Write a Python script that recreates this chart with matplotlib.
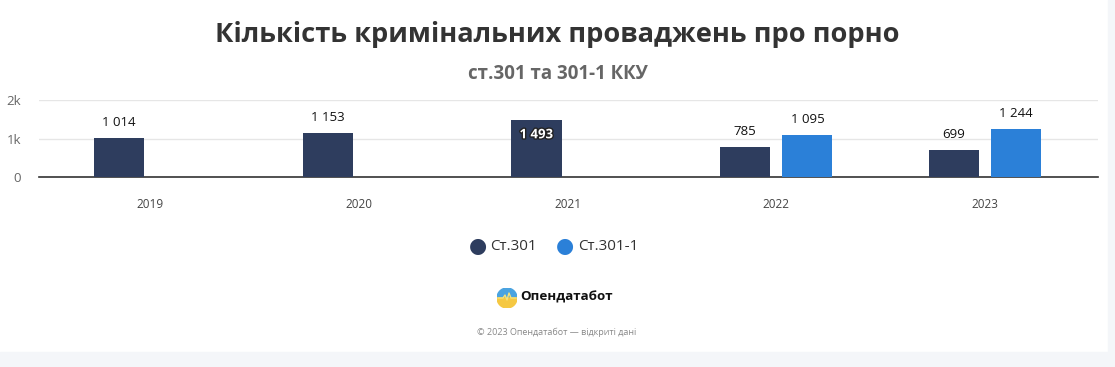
import matplotlib.pyplot as plt
import matplotlib.patheffects as pe
from matplotlib.patches import Rectangle, Wedge
import numpy as np

plt.rcParams['font.family'] = ['Open Sans', 'DejaVu Sans']

years = ['2019', '2020', '2021', '2022', '2023']
st301 = [1014, 1153, 1493, 785, 699]
st301_1 = [None, None, None, 1095, 1244]
series_names = ['Ст.301', 'Ст.301-1']
colors = ['#2e3d5e', '#2b80d8']

fig = plt.figure(figsize=(11.15, 3.67), dpi=100)
fig.patch.set_facecolor('white')

# light page border at right / bottom
fig.patches.append(Rectangle((0, 0), 1, 15 / 367, transform=fig.transFigure,
                             color='#f4f6f9', zorder=0))
fig.patches.append(Rectangle((1108 / 1115, 0), 7 / 1115, 1, transform=fig.transFigure,
                             color='#f4f6f9', zorder=0))

ax = fig.add_axes([39 / 1115, (367 - 177) / 367, (1098 - 39) / 1115, 77 / 367])
x = np.arange(len(years))
w = 0.24
off = 0.149

ax.bar(x - off, st301, width=w, color=colors[0], zorder=3)
vals2 = [v if v is not None else 0 for v in st301_1]
ax.bar(x + off, vals2, width=w, color=colors[1], zorder=3)

ax.set_xlim(-0.532, 4.541)
ax.set_ylim(0, 2000)
ax.set_yticks([0, 1000, 2000], ['0', '1k', '2k'])
ax.set_xticks(x, years)
ax.grid(axis='y', color='#e6e6e6', linewidth=1, zorder=0)
for s in ['top', 'right', 'left']:
    ax.spines[s].set_visible(False)
ax.spines['bottom'].set_color('#333333')
ax.spines['bottom'].set_linewidth(1.2)
ax.tick_params(axis='x', length=0, pad=15, labelsize=8.5, labelcolor='#444444')
ax.tick_params(axis='y', length=0, pad=13, labelsize=9.5, labelcolor='#666666')

def fmt(v):
    return f'{v:,}'.replace(',', ' ')

for i, v in enumerate(st301):
    if v > 1400:
        ax.annotate(fmt(v), (x[i] - off, v), xytext=(0, -11), textcoords='offset points',
                    ha='center', va='center', fontsize=9.5, fontweight='bold', color='white',
                    path_effects=[pe.withStroke(linewidth=2, foreground='#222222')], zorder=5)
    else:
        ax.annotate(fmt(v), (x[i] - off, v), xytext=(0, 11), textcoords='offset points',
                    ha='center', va='center', fontsize=9.5, color='#111111', zorder=5)
for i, v in enumerate(st301_1):
    if v is not None:
        ax.annotate(fmt(v), (x[i] + off, v), xytext=(0, 11), textcoords='offset points',
                    ha='center', va='center', fontsize=9.5, color='#111111', zorder=5)

fig.text(0.5, 1 - 35 / 367, 'Кількість кримінальних проваджень про порно', ha='center',
         va='center', fontsize=19.6, fontweight='bold', color='#333333')
fig.text(0.5, 1 - 74 / 367, 'ст.301 та 301-1 ККУ', ha='center', va='center',
         fontsize=13.5, fontweight='bold', color='#666666')

# legend
ly = 1 - 246 / 367
for cx, tx, name, c in [(478, 490, series_names[0], colors[0]),
                        (565, 578, series_names[1], colors[1])]:
    fig.text(cx / 1115, ly, '●', ha='center', va='center', fontsize=15, color=c,
             family='DejaVu Sans')
    fig.text(tx / 1115, ly, name, ha='left', va='center', fontsize=11, color='#333333')

# logo
lax = fig.add_axes([497 / 1115, (367 - 308) / 367, 20 / 1115, 20 / 367])
lax.set_xlim(-1, 1)
lax.set_ylim(-1, 1)
lax.set_aspect('equal')
lax.axis('off')
lax.add_patch(Wedge((0, 0), 1, 0, 180, color='#4aa3e0'))
lax.add_patch(Wedge((0, 0), 1, 180, 360, color='#f5c842'))
lax.plot([-0.9, -0.4, -0.2, 0.0, 0.2, 0.4, 0.9], [0, 0, 0.3, -0.2, 0.5, 0, 0],
         color='#f5e27a', linewidth=1)
fig.text(520 / 1115, 1 - 297 / 367, 'Опендатабот', ha='left', va='center', fontsize=9.6,
         fontweight='bold', color='#111111')
fig.text(0.5 - 1 / 1115, 1 - 332 / 367, '© 2023 Опендатабот — відкриті дані', ha='center',
         va='center', fontsize=6.5, color='#888888')

plt.savefig('out.png', dpi=100)
plt.close()
